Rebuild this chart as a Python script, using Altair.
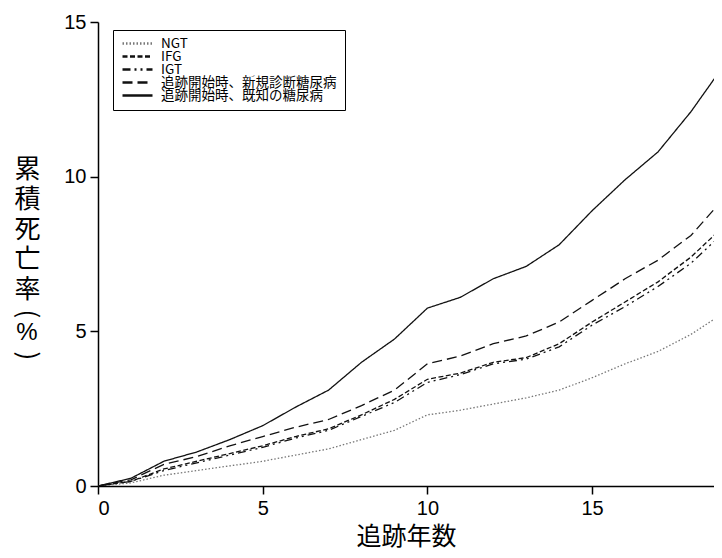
import altair as alt
import pandas as pd

years = list(range(0, 20))
groups = ["NGT", "IFG", "IGT", "追跡開始時、新規診断糖尿病", "追跡開始時、既知の糖尿病"]
ngt = [0, 0.1, 0.35, 0.5, 0.65, 0.8, 1.0, 1.2, 1.5, 1.8, 2.3, 2.45, 2.65, 2.85, 3.1, 3.5, 3.95, 4.35, 4.9, 5.6]
ifg = [0, 0.15, 0.55, 0.8, 1.05, 1.3, 1.6, 1.85, 2.3, 2.8, 3.45, 3.65, 4.0, 4.15, 4.6, 5.3, 5.95, 6.6, 7.4, 8.4]
igt = [0, 0.15, 0.5, 0.75, 1.0, 1.25, 1.55, 1.8, 2.25, 2.7, 3.35, 3.6, 3.95, 4.1, 4.5, 5.2, 5.8, 6.45, 7.2, 8.2]
new_dm = [0, 0.2, 0.7, 0.95, 1.3, 1.6, 1.9, 2.15, 2.6, 3.1, 3.95, 4.2, 4.6, 4.85, 5.3, 6.0, 6.7, 7.3, 8.1, 9.3]
known_dm = [0, 0.25, 0.8, 1.1, 1.5, 1.95, 2.55, 3.1, 4.0, 4.75, 5.75, 6.1, 6.7, 7.1, 7.8, 8.9, 9.9, 10.8, 12.1, 13.6]

series = [ngt, ifg, igt, new_dm, known_dm]
rows = []
for g, vals in zip(groups, series):
    for y, v in zip(years, vals):
        rows.append({"year": y, "rate": v, "group": g})
df = pd.DataFrame(rows)

dashes = [[1.5, 2], [5, 2.5], [8, 4, 2, 4, 2, 4], [10, 5], [1, 0]]
colors = ["#777777", "#111111", "#111111", "#111111", "#111111"]

legend = alt.Legend(
    title=None, orient="none", legendX=15, legendY=8,
    symbolType="stroke", symbolStrokeWidth=2.5, symbolSize=900,
    labelFont="Noto Sans CJK JP", labelFontSize=13.5, labelColor="black",
    labelLimit=400, rowPadding=-1, clipHeight=11, padding=8,
    strokeColor="black", fillColor="white", cornerRadius=0,
    symbolOffset=0, labelOffset=7,
)

axis_common = dict(
    grid=False, labelFont="Liberation Sans", labelFontSize=20,
    labelColor="black", tickColor="black", tickSize=8,
    domainColor="black", domainWidth=1.5, tickWidth=1.5,
    labelPadding=4, titleFont="Noto Sans CJK JP",
    titleFontWeight="normal", titleColor="black",
)

lines = alt.Chart(df).mark_line(strokeWidth=1.3, clip=True).encode(
    x=alt.X("year:Q", scale=alt.Scale(domain=[0, 18.7], nice=False, zero=True),
            axis=alt.Axis(values=[0, 5, 10, 15], title="追跡年数",
                          titleFontSize=25, titlePadding=6, **axis_common)),
    y=alt.Y("rate:Q", scale=alt.Scale(domain=[0, 15], nice=False),
            axis=alt.Axis(values=[0, 5, 10, 15], title=list("累積死亡率"),
                          titleFontSize=26, titleAngle=0,
                          titleAlign="center", titleBaseline="top", titleX=-71, titleY=134,
                          titleLineHeight=30, **axis_common)),
    color=alt.Color("group:N", sort=groups,
                    scale=alt.Scale(domain=groups, range=colors), legend=legend),
    strokeDash=alt.StrokeDash("group:N", sort=groups,
                              scale=alt.Scale(domain=groups, range=dashes), legend=legend),
    detail="group:N",
)

base_txt = alt.Chart(pd.DataFrame({"a": [0]}))
paren_l = base_txt.mark_text(text="(", angle=90, font="Noto Sans CJK JP", fontSize=26,
                             color="black", align="center", baseline="middle").encode(
    x=alt.value(-71), y=alt.value(292))
pct = base_txt.mark_text(text="%", font="Liberation Sans", fontSize=24,
                         color="black", align="center", baseline="middle").encode(
    x=alt.value(-71), y=alt.value(311))
paren_r = base_txt.mark_text(text=")", angle=90, font="Noto Sans CJK JP", fontSize=26,
                             color="black", align="center", baseline="middle").encode(
    x=alt.value(-71), y=alt.value(334))

chart = alt.layer(lines, paren_l, pct, paren_r).properties(
    width=616, height=464,
    autosize=alt.AutoSizeParams(type="none"),
    padding={"left": 90, "top": 14, "right": 0, "bottom": 64},
).configure_view(stroke=None).configure_axis(labelAngle=0)

chart.save("out.html", embed_options={"renderer": "svg", "actions": False})
